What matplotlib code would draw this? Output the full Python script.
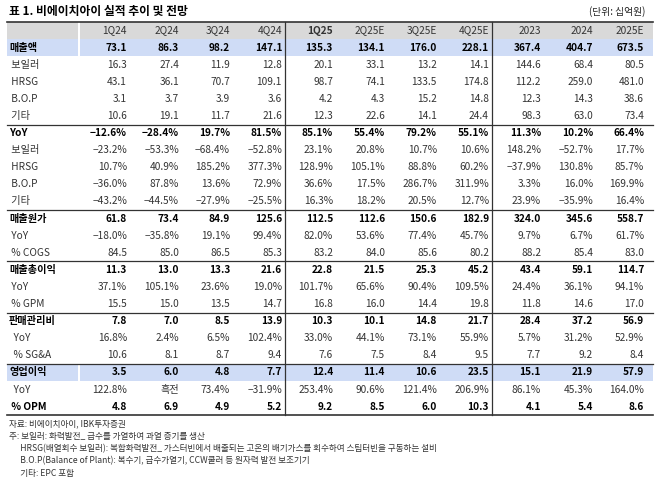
import matplotlib
matplotlib.use("Agg")
import matplotlib.pyplot as plt

plt.rcParams['font.family'] = ['Noto Sans CJK KR', 'DejaVu Sans']

title = "표 1. 비에이치아이 실적 추이 및 전망"
unit = "(단위: 십억원)"
columns = ["1Q24", "2Q24", "3Q24", "4Q24", "1Q25", "2Q25E", "3Q25E", "4Q25E", "2023", "2024", "2025E"]
row_labels = ["매출액", " 보일러", " HRSG", " B.O.P", " 기타",
              "YoY", " 보일러", " HRSG", " B.O.P", " 기타",
              "매출원가", " YoY", " % COGS",
              "매출총이익", " YoY", " % GPM",
              "판매관리비", "  YoY", "  % SG&A",
              "영업이익", "  YoY", " % OPM"]
values = [
    ["73.1", "86.3", "98.2", "147.1", "135.3", "134.1", "176.0", "228.1", "367.4", "404.7", "673.5"],
    ["16.3", "27.4", "11.9", "12.8", "20.1", "33.1", "13.2", "14.1", "144.6", "68.4", "80.5"],
    ["43.1", "36.1", "70.7", "109.1", "98.7", "74.1", "133.5", "174.8", "112.2", "259.0", "481.0"],
    ["3.1", "3.7", "3.9", "3.6", "4.2", "4.3", "15.2", "14.8", "12.3", "14.3", "38.6"],
    ["10.6", "19.1", "11.7", "21.6", "12.3", "22.6", "14.1", "24.4", "98.3", "63.0", "73.4"],
    ["−12.6%", "−28.4%", "19.7%", "81.5%", "85.1%", "55.4%", "79.2%", "55.1%", "11.3%", "10.2%", "66.4%"],
    ["−23.2%", "−53.3%", "−68.4%", "−52.8%", "23.1%", "20.8%", "10.7%", "10.6%", "148.2%", "−52.7%", "17.7%"],
    ["10.7%", "40.9%", "185.2%", "377.3%", "128.9%", "105.1%", "88.8%", "60.2%", "−37.9%", "130.8%", "85.7%"],
    ["−36.0%", "87.8%", "13.6%", "72.9%", "36.6%", "17.5%", "286.7%", "311.9%", "3.3%", "16.0%", "169.9%"],
    ["−43.2%", "−44.5%", "−27.9%", "−25.5%", "16.3%", "18.2%", "20.5%", "12.7%", "23.9%", "−35.9%", "16.4%"],
    ["61.8", "73.4", "84.9", "125.6", "112.5", "112.6", "150.6", "182.9", "324.0", "345.6", "558.7"],
    ["−18.0%", "−35.8%", "19.1%", "99.4%", "82.0%", "53.6%", "77.4%", "45.7%", "9.7%", "6.7%", "61.7%"],
    ["84.5", "85.0", "86.5", "85.3", "83.2", "84.0", "85.6", "80.2", "88.2", "85.4", "83.0"],
    ["11.3", "13.0", "13.3", "21.6", "22.8", "21.5", "25.3", "45.2", "43.4", "59.1", "114.7"],
    ["37.1%", "105.1%", "23.6%", "19.0%", "101.7%", "65.6%", "90.4%", "109.5%", "24.4%", "36.1%", "94.1%"],
    ["15.5", "15.0", "13.5", "14.7", "16.8", "16.0", "14.4", "19.8", "11.8", "14.6", "17.0"],
    ["7.8", "7.0", "8.5", "13.9", "10.3", "10.1", "14.8", "21.7", "28.4", "37.2", "56.9"],
    ["16.8%", "2.4%", "6.5%", "102.4%", "33.0%", "44.1%", "73.1%", "55.9%", "5.7%", "31.2%", "52.9%"],
    ["10.6", "8.1", "8.7", "9.4", "7.6", "7.5", "8.4", "9.5", "7.7", "9.2", "8.4"],
    ["3.5", "6.0", "4.8", "7.7", "12.4", "11.4", "10.6", "23.5", "15.1", "21.9", "57.9"],
    ["122.8%", "흑전", "73.4%", "−31.9%", "253.4%", "90.6%", "121.4%", "206.9%", "86.1%", "45.3%", "164.0%"],
    ["4.8", "6.9", "4.9", "5.2", "9.2", "8.5", "6.0", "10.3", "4.1", "5.4", "8.6"],
]
bold_rows = {0, 5, 10, 13, 16, 19, 21}
highlight_rows = {0, 19}
section_starts = [5, 10, 13, 16, 19]
footnotes = [
    "자료: 비에이치아이, IBK투자증권",
    "주: 보일러: 화력발전_ 급수를 가열하여 과열 증기를 생산",
    "      HRSG(배열회수 보일러): 복합화력발전_ 가스터빈에서 배출되는 고온의 배기가스를 회수하여 스팀터빈을 구동하는 설비",
    "      B.O.P(Balance of Plant): 복수기, 급수가열기, CCW쿨러 등 원자력 발전 보조기기",
    "      기타: EPC 포함",
]

fig = plt.figure(figsize=(6.55, 4.8), dpi=100)
ax = fig.add_axes([0, 0, 1, 1])
ax.set_xlim(0, 655)
ax.set_ylim(480, 0)
ax.axis('off')

left, right = 7, 653
label_w = 79
top = 22
hdr_h = 17
row_h = 17.1
col_right = [127, 179, 230, 282, 333, 385, 437, 489, 541, 593, 644]
vlines = [285, 492]
fs = 7.3

ax.text(9, 12, title, fontsize=8.5, fontweight='bold', va='center', ha='left')
ax.text(645, 12, unit, fontsize=7, va='center', ha='right', color='#222222')

# header
ax.add_patch(plt.Rectangle((left, top), label_w - left - 1, hdr_h, color='#d9d9d9', lw=0))
ax.add_patch(plt.Rectangle((label_w + 1, top), right - label_w - 1, hdr_h, color='#d9d9d9', lw=0))
for i, c in enumerate(columns):
    ax.text(col_right[i], top + hdr_h / 2, c, fontsize=fs, ha='right', va='center',
            fontweight='bold' if c == "1Q25" else 'normal', color='#333333')

y0 = top + hdr_h
for r, lab in enumerate(row_labels):
    yc = y0 + r * row_h + row_h / 2
    if r in highlight_rows:
        ax.add_patch(plt.Rectangle((left, y0 + r * row_h), label_w - left - 1, row_h, color='#cfdcf6', lw=0))
        ax.add_patch(plt.Rectangle((label_w + 1, y0 + r * row_h), right - label_w - 1, row_h, color='#cfdcf6', lw=0))
    b = r in bold_rows
    ax.text(9, yc, lab, fontsize=fs, ha='left', va='center',
            fontweight='bold' if b else 'normal', color='black' if b else '#333333')
    for i, v in enumerate(values[r]):
        ax.text(col_right[i], yc, v, fontsize=fs, ha='right', va='center',
                fontweight='bold' if b else 'normal', color='black' if b else '#333333')

bottom = y0 + len(row_labels) * row_h
ax.plot([left, right], [top, top], color='#333333', lw=1.2)
ax.plot([left, right], [bottom, bottom], color='#333333', lw=1.2)
for s in section_starts:
    y = y0 + s * row_h
    ax.plot([left, right], [y, y], color='#333333', lw=0.9)
for x in vlines:
    ax.plot([x, x], [top, bottom], color='#333333', lw=0.9)

for k, t in enumerate(footnotes):
    ax.text(9, 424 + k * 12.3, t, fontsize=6.2, ha='left', va='center', color='#333333')

fig.savefig("out.png", dpi=100)
